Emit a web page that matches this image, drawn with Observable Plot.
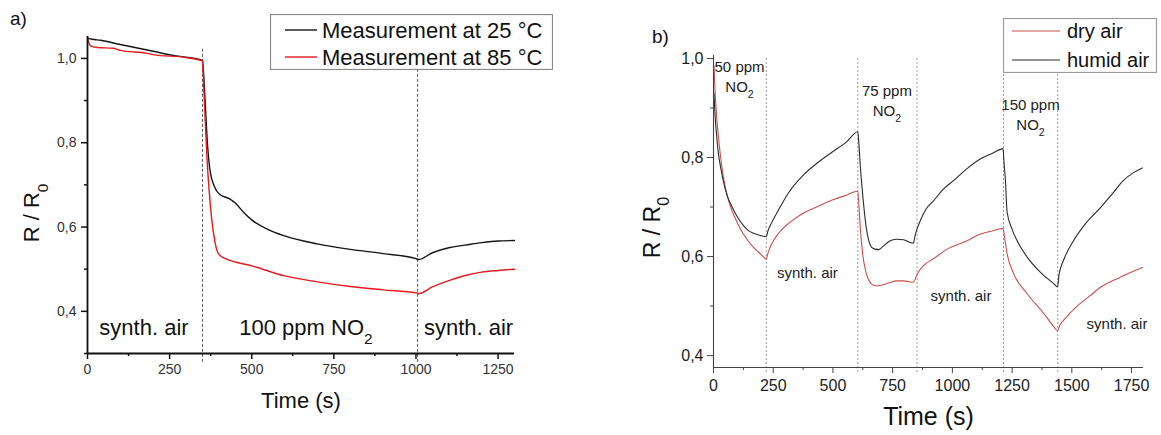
<!DOCTYPE html>
<html><head><meta charset="utf-8">
<script src="https://cdn.jsdelivr.net/npm/d3@7"></script>
<script src="https://cdn.jsdelivr.net/npm/@observablehq/plot@0.6"></script>
<style>
body{margin:0;background:#fff;}
#wrap{position:relative;width:1161px;height:435px;overflow:hidden;background:#fff;font-family:"Liberation Sans",Arial,sans-serif;}
.panel{position:absolute;top:0;}
.tag{position:absolute;color:#111;font-size:19px;line-height:1;}
</style></head>
<body><div id="wrap">
<div id="pa" class="panel" style="left:0"></div>
<div id="pb" class="panel" style="left:600px"></div>
<div class="tag" style="left:10px;top:9px;">a)</div>
<div class="tag" style="left:652px;top:27px;">b)</div>
</div>
<script>
// ---------- Panel a data ----------
const seriesA = ["Measurement at 25 °C", "Measurement at 85 °C"];
const timeA25 = [0,3,20,40,100,200,262,300,344,350,353,358,365,372,386,403,430,450,475,500,550,600,700,800,900,1000,1008,1050,1100,1150,1200,1250,1300];
const valA25  = [1.05,1.047,1.045,1.043,1.033,1.017,1.007,1.003,0.997,0.995,0.97,0.90,0.80,0.74,0.697,0.677,0.668,0.657,0.635,0.617,0.594,0.579,0.56,0.547,0.537,0.525,0.523,0.539,0.551,0.557,0.563,0.567,0.568];
const timeA85 = [0,3,9,30,78,100,182,200,300,350,353,358,364,370,378,388,400,420,450,500,600,700,800,900,1000,1008,1050,1100,1150,1200,1250,1300];
const valA85  = [1.05,1.04,1.03,1.026,1.024,1.019,1.012,1.009,1.002,0.994,0.95,0.86,0.76,0.69,0.62,0.565,0.535,0.525,0.517,0.508,0.484,0.47,0.459,0.451,0.444,0.442,0.458,0.473,0.485,0.493,0.497,0.5];
const switchA = [350, 1005];
const annA = ["synth. air", "100 ppm NO_2", "synth. air"];
const annAt = [172, 665, 1160];
const annAr = [0.361, 0.361, 0.361];
const xMajorA = [0,250,500,750,1000,1250];
const xMinorA = [125,375,625,875,1125];
const yMajorA = [0.4,0.6,0.8,1.0];
const yMinorA = [0.3,0.5,0.7,0.9];

// ---------- Panel b data ----------
const seriesB = ["dry air", "humid air"];
const timeDry = [2,6,12,20,30,40,58,78,100,123,145,168,200,221,228,242,272,317,377,437,497,556,604,609,615,624,639,650,661,676,691,736,766,796,820,836,853,880,922,975,1062,1110,1170,1212,1218,1229,1257,1313,1383,1425,1440,1450,1465,1522,1574,1620,1680,1731,1795];
const valDry  = [0.985,0.94,0.89,0.845,0.80,0.765,0.722,0.692,0.668,0.647,0.632,0.618,0.604,0.595,0.607,0.624,0.647,0.668,0.688,0.701,0.714,0.724,0.732,0.70,0.655,0.607,0.567,0.552,0.545,0.541,0.541,0.547,0.551,0.551,0.549,0.548,0.565,0.582,0.596,0.614,0.632,0.644,0.652,0.657,0.64,0.606,0.565,0.525,0.485,0.458,0.45,0.462,0.471,0.50,0.52,0.538,0.553,0.565,0.578];
const timeHum = [2,6,12,20,30,40,58,78,100,123,145,168,200,221,228,242,272,317,377,437,497,556,604,609,615,624,639,650,661,676,691,706,736,766,796,820,836,845,866,890,922,960,1006,1060,1110,1170,1212,1216,1222,1229,1250,1271,1313,1369,1425,1440,1447,1465,1507,1560,1620,1670,1716,1760,1795];
const valHum  = [0.93,0.89,0.85,0.81,0.78,0.755,0.722,0.70,0.68,0.664,0.653,0.647,0.642,0.640,0.652,0.667,0.694,0.731,0.765,0.79,0.811,0.831,0.852,0.825,0.78,0.728,0.66,0.632,0.619,0.615,0.614,0.619,0.631,0.635,0.634,0.629,0.627,0.645,0.673,0.696,0.713,0.735,0.754,0.777,0.795,0.809,0.818,0.79,0.754,0.69,0.655,0.632,0.599,0.568,0.545,0.539,0.565,0.592,0.632,0.668,0.699,0.727,0.754,0.77,0.779];
const switchB = [221, 604, 852, 1214, 1441];
const gasB = ["50 ppm\nNO_2", "75 ppm\nNO_2", "150 ppm\nNO_2"];
const gasBt = [109, 726, 1327];
const gasBr = [1.0015, 0.953, 0.9246];
const airB = ["synth. air", "synth. air", "synth. air"];
const airBt = [393, 1036, 1689];
const airBr = [0.566, 0.519, 0.463];
const xMajorB = [0,250,500,750,1000,1250,1500,1750];
const xMinorB = [125,375,625,875,1125,1375,1625];
const yMajorB = [0.4,0.6,0.8,1.0];
const yMinorB = [0.5,0.7,0.9];

const FONT = '"Liberation Sans", Arial, sans-serif';
const comma = d => d.toFixed(1).replace(".", ",");
const plain = d => String(d);
const rows = (ts, vs, s) => ts.map((t, i) => ({t, r: vs[i], s}));
const none = () => "";

function subscriptify(root) {
  const ns = "http://www.w3.org/2000/svg";
  root.querySelectorAll("text, tspan").forEach(el => {
    if (el.children.length) return;
    const s = el.textContent;
    if (!s.includes("_")) return;
    const parts = s.split(/_(\d)/);
    el.textContent = "";
    parts.forEach((p, i) => {
      if (!p) return;
      const t = document.createElementNS(ns, "tspan");
      t.textContent = p;
      if (i % 2) { t.setAttribute("baseline-shift", "sub"); t.setAttribute("font-size", "70%"); }
      el.appendChild(t);
    });
  });
}

function legend(names, colors, o) {
  const svg = d3.create("svg").attr("width", o.w).attr("height", o.h)
    .style("position", "absolute").style("left", o.left + "px").style("top", o.top + "px")
    .style("font-family", FONT);
  svg.append("rect").attr("x", 0.5).attr("y", 0.5).attr("width", o.w - 1).attr("height", o.h - 1)
    .attr("fill", "#fff").attr("stroke", o.border).attr("stroke-width", 1.2);
  names.forEach((n, i) => {
    const y = o.row0 + i * o.dy;
    svg.append("line").attr("x1", o.s0).attr("x2", o.s1).attr("y1", y).attr("y2", y)
      .attr("stroke", colors[i]).attr("stroke-width", o.sw);
    svg.append("text").attr("x", o.tx).attr("y", y).attr("dy", "0.35em")
      .attr("font-size", o.fs).attr("fill", "#111").text(n);
  });
  document.getElementById("wrap").appendChild(svg.node());
}

// ---------- Panel a ----------
const dataA = [...rows(timeA25, valA25, seriesA[0]), ...rows(timeA85, valA85, seriesA[1])];
const colorsA = ["#151515", "#e3191c"];
const plotA = Plot.plot({
  width: 580, height: 435,
  marginLeft: 87, marginRight: 66, marginTop: 36, marginBottom: 82,
  style: {fontFamily: FONT, fontSize: "14px", color: "#111", background: "transparent"},
  x: {domain: [0, 1300]},
  y: {domain: [0.3, 1.052]},
  marks: [
    Plot.ruleX(switchA, {x: d => d, y1: 0.279, y2: 1.024, stroke: "#444", strokeWidth: 0.9, strokeDasharray: "3,2"}),
    Plot.line(dataA, {x: "t", y: "r", z: "s", stroke: d => d.s === seriesA[0] ? colorsA[0] : colorsA[1], strokeWidth: 1.4, curve: "monotone-x"}),
    Plot.ruleX([0], {stroke: "#111", strokeWidth: 1.8}),
    Plot.ruleY([0.3], {stroke: "#111", strokeWidth: 1.8}),
    Plot.axisX({ticks: xMajorA, tickSize: 6, tickPadding: 5, tickFormat: plain, label: null, stroke: "#111", strokeWidth: 1.5, fill: "#333", fontSize: 14}),
    Plot.axisX({ticks: xMinorA, tickSize: 3, tickFormat: none, label: null, stroke: "#111", strokeWidth: 1.5}),
    Plot.axisY({ticks: yMajorA, tickSize: 6, tickPadding: 5, tickFormat: comma, label: null, stroke: "#111", strokeWidth: 1.5, fill: "#333", fontSize: 14}),
    Plot.axisY({ticks: yMinorA, tickSize: 3, tickFormat: none, label: null, stroke: "#111", strokeWidth: 1.5}),
    Plot.text(annA, {x: annAt, y: annAr, text: d => d, fontSize: 22, fill: "#111", textAnchor: "middle", lineAnchor: "middle"}),
    Plot.text(["Time (s)"], {frameAnchor: "bottom", dy: 47, fontSize: 22, fill: "#111", textAnchor: "middle", lineAnchor: "middle"}),
    Plot.text(["R / R_0"], {frameAnchor: "left", dx: -56, dy: 18, rotate: -90, fontSize: 22, fill: "#111", textAnchor: "middle", lineAnchor: "middle"})
  ]
});
subscriptify(plotA);
document.getElementById("pa").appendChild(plotA);

// ---------- Panel b ----------
const dataB = [...rows(timeDry, valDry, seriesB[0]), ...rows(timeHum, valHum, seriesB[1])];
const colorsB = ["#c9504a", "#2b2b2b"];
const plotB = Plot.plot({
  width: 561, height: 435,
  marginLeft: 113, marginRight: 18, marginTop: 55, marginBottom: 68,
  style: {fontFamily: FONT, fontSize: "16px", color: "#333", background: "transparent"},
  x: {domain: [0, 1800]},
  y: {domain: [0.376, 1.006]},
  marks: [
    Plot.ruleX(switchB, {x: d => d, y1: 0.366, y2: 1.0, stroke: "#999", strokeWidth: 1, strokeDasharray: "2,2"}),
    Plot.line(dataB, {x: "t", y: "r", z: "s", stroke: d => d.s === seriesB[0] ? colorsB[0] : colorsB[1], strokeWidth: 1.1, curve: "monotone-x"}),
    Plot.ruleX([0], {stroke: "#444", strokeWidth: 1.1}),
    Plot.ruleY([0.376], {stroke: "#444", strokeWidth: 1.1}),
    Plot.axisX({ticks: xMajorB, tickSize: 6, tickPadding: 6, tickFormat: plain, label: null, stroke: "#444", fill: "#222", fontSize: 16}),
    Plot.axisX({ticks: xMinorB, tickSize: 3, tickFormat: none, label: null, stroke: "#444"}),
    Plot.axisY({ticks: yMajorB, tickSize: 6, tickPadding: 4, tickFormat: comma, label: null, stroke: "#444", fill: "#222", fontSize: 16}),
    Plot.axisY({ticks: yMinorB, tickSize: 3, tickFormat: none, label: null, stroke: "#444"}),
    Plot.text(gasB, {x: gasBt, y: gasBr, text: d => d, fontSize: 15, lineHeight: 1.35, fill: "#222", textAnchor: "middle", lineAnchor: "top"}),
    Plot.text(airB, {x: airBt, y: airBr, text: d => d, fontSize: 15, fill: "#222", textAnchor: "middle", lineAnchor: "middle"}),
    Plot.text(["Time (s)"], {frameAnchor: "bottom", dy: 49, fontSize: 25, fill: "#111", textAnchor: "middle", lineAnchor: "middle"}),
    Plot.text(["R / R_0"], {frameAnchor: "left", dx: -61, dy: 16, rotate: -90, fontSize: 23, fill: "#111", textAnchor: "middle", lineAnchor: "middle"})
  ]
});
subscriptify(plotB);
document.getElementById("pb").appendChild(plotB);

// ---------- Legends ----------
legend(seriesA, colorsA, {left: 270, top: 14, w: 283, h: 56, border: "#888", s0: 15, s1: 47, tx: 52, row0: 16, dy: 27, fs: 22, sw: 1.4});
legend(seriesB, colorsB, {left: 1003, top: 18, w: 154, h: 55, border: "#999", s0: 9, s1: 57, tx: 64, row0: 13, dy: 29, fs: 20, sw: 1.1});
</script>
</body></html>
